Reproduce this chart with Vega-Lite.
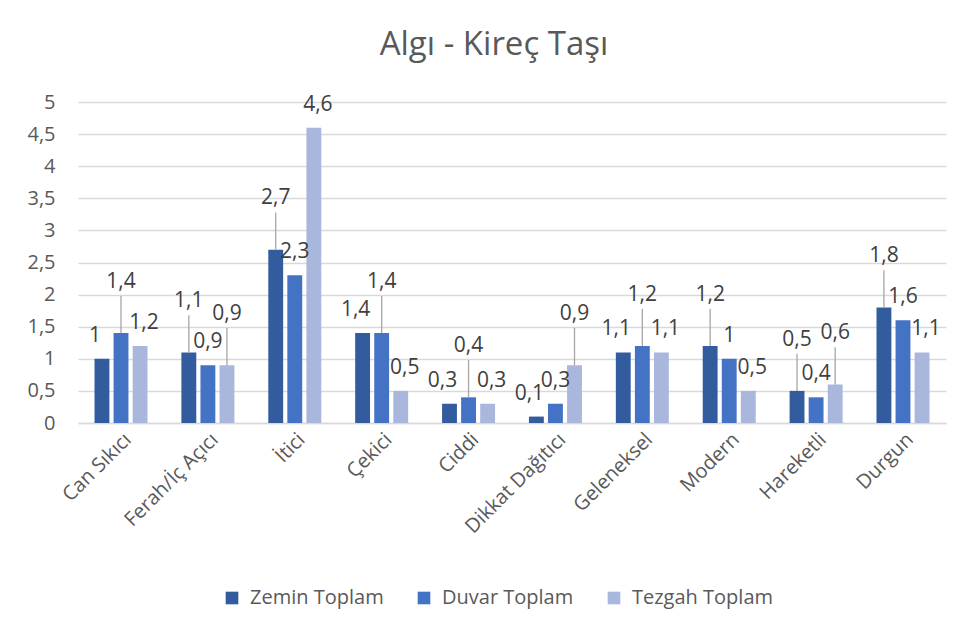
{
  "$schema": "https://vega.github.io/schema/vega-lite/v6.json",
  "autosize": {"type": "none"},
  "width": 868,
  "height": 321,
  "padding": {"left": 78, "top": 102, "right": 22, "bottom": 212},
  "background": "white",
  "title": {"text": "Algı - Kireç Taşı", "fontSize": 33, "font": "Open Sans", "fontWeight": "normal", "color": "#595959", "anchor": "middle", "offset": 30, "dx": -18},
  "config": {
    "locale": {"number": {"decimal": ",", "thousands": ".", "grouping": [3], "currency": ["", ""]}},
    "view": {"stroke": null},
    "font": "Open Sans"
  },
  "data": {"values": [
    {"k": "Can Sıkıcı", "s": "Zemin Toplam", "v": 1},
    {"k": "Can Sıkıcı", "s": "Duvar Toplam", "v": 1.4},
    {"k": "Can Sıkıcı", "s": "Tezgah Toplam", "v": 1.2},
    {"k": "Ferah/İç Açıcı", "s": "Zemin Toplam", "v": 1.1},
    {"k": "Ferah/İç Açıcı", "s": "Duvar Toplam", "v": 0.9},
    {"k": "Ferah/İç Açıcı", "s": "Tezgah Toplam", "v": 0.9},
    {"k": "İtici", "s": "Zemin Toplam", "v": 2.7},
    {"k": "İtici", "s": "Duvar Toplam", "v": 2.3},
    {"k": "İtici", "s": "Tezgah Toplam", "v": 4.6},
    {"k": "Çekici", "s": "Zemin Toplam", "v": 1.4},
    {"k": "Çekici", "s": "Duvar Toplam", "v": 1.4},
    {"k": "Çekici", "s": "Tezgah Toplam", "v": 0.5},
    {"k": "Ciddi", "s": "Zemin Toplam", "v": 0.3},
    {"k": "Ciddi", "s": "Duvar Toplam", "v": 0.4},
    {"k": "Ciddi", "s": "Tezgah Toplam", "v": 0.3},
    {"k": "Dikkat Dağıtıcı", "s": "Zemin Toplam", "v": 0.1},
    {"k": "Dikkat Dağıtıcı", "s": "Duvar Toplam", "v": 0.3},
    {"k": "Dikkat Dağıtıcı", "s": "Tezgah Toplam", "v": 0.9},
    {"k": "Geleneksel", "s": "Zemin Toplam", "v": 1.1},
    {"k": "Geleneksel", "s": "Duvar Toplam", "v": 1.2},
    {"k": "Geleneksel", "s": "Tezgah Toplam", "v": 1.1},
    {"k": "Modern", "s": "Zemin Toplam", "v": 1.2},
    {"k": "Modern", "s": "Duvar Toplam", "v": 1},
    {"k": "Modern", "s": "Tezgah Toplam", "v": 0.5},
    {"k": "Hareketli", "s": "Zemin Toplam", "v": 0.5},
    {"k": "Hareketli", "s": "Duvar Toplam", "v": 0.4},
    {"k": "Hareketli", "s": "Tezgah Toplam", "v": 0.6},
    {"k": "Durgun", "s": "Zemin Toplam", "v": 1.8},
    {"k": "Durgun", "s": "Duvar Toplam", "v": 1.6},
    {"k": "Durgun", "s": "Tezgah Toplam", "v": 1.1}
  ]},
  "encoding": {
    "x": {"field": "k", "type": "nominal", "sort": null, "title": null,
      "scale": {"paddingInner": 0.39, "paddingOuter": 0.19},
      "axis": {"labelAngle": -45, "labelFontSize": 20, "labelColor": "#595959", "domainColor": "#d9d9d9", "domainWidth": 1.5, "ticks": false, "labelPadding": 6, "labelFont": "Open Sans"}},
    "xOffset": {"field": "s", "type": "nominal", "sort": ["Zemin Toplam", "Duvar Toplam", "Tezgah Toplam"], "scale": {"paddingInner": 0.22}},
    "y": {"field": "v", "type": "quantitative", "title": null,
      "scale": {"domain": [0, 5]},
      "axis": {"values": [0, 0.5, 1, 1.5, 2, 2.5, 3, 3.5, 4, 4.5, 5], "format": "~g", "labelFontSize": 20, "labelColor": "#595959", "domain": false, "ticks": false, "gridColor": "#d9d9d9", "gridWidth": 1.3, "labelPadding": 23, "labelFont": "Open Sans"}}
  },
  "layer": [
    {"mark": {"type": "bar"},
     "encoding": {
       "color": {"field": "s", "type": "nominal", "sort": ["Zemin Toplam", "Duvar Toplam", "Tezgah Toplam"],
         "scale": {"domain": ["Zemin Toplam", "Duvar Toplam", "Tezgah Toplam"], "range": ["#335C9F", "#4472C4", "#A9B7DC"]},
         "legend": {"title": null, "orient": "none", "legendX": 144, "legendY": 486, "direction": "horizontal", "symbolType": "square", "symbolSize": 160, "symbolStrokeWidth": 0, "labelFontSize": 20, "labelColor": "#595959", "columnPadding": 30, "labelOffset": 8, "labelFont": "Open Sans"}}
     }},
    {"transform": [
       {"calculate": "datum.s === 'Zemin Toplam' ? datum.v : null", "as": "zv"},
       {"calculate": "datum.s === 'Duvar Toplam' ? datum.v : null", "as": "dv"},
       {"calculate": "datum.s === 'Tezgah Toplam' ? datum.v : null", "as": "tv"},
       {"joinaggregate": [{"op": "max", "field": "zv", "as": "z"}, {"op": "max", "field": "dv", "as": "d"}, {"op": "max", "field": "tv", "as": "t"}], "groupby": ["k"]},
       {"calculate": "((datum.s === 'Duvar Toplam' && datum.d >= datum.z && datum.d >= datum.t) || (datum.s === 'Zemin Toplam' && datum.z > datum.d) || (datum.s === 'Tezgah Toplam' && datum.t >= datum.d && datum.t - datum.d < 1 && !(datum.d >= datum.z && datum.d >= datum.t))) ? 1 : 0", "as": "lift"},
       {"calculate": "datum.v + datum.lift * 0.58", "as": "top"}
     ],
     "layer": [
       {"transform": [{"filter": "datum.lift === 1"}],
        "mark": {"type": "rule", "color": "#a6a6a6", "strokeWidth": 1.3},
        "encoding": {"y2": {"field": "top"}}},
       {"transform": [{"filter": "datum.lift === 1"}],
        "mark": {"type": "text", "baseline": "alphabetic", "dy": -8, "fontSize": 21, "color": "#404040", "font": "Open Sans"},
        "encoding": {"y": {"field": "top", "type": "quantitative"}, "text": {"field": "v", "type": "quantitative", "format": ".1~f"}}},
       {"transform": [{"filter": "datum.lift === 0 && datum.s === 'Zemin Toplam'"}],
        "mark": {"type": "text", "baseline": "alphabetic", "dy": -17, "dx": -7, "fontSize": 21, "color": "#404040", "font": "Open Sans"},
        "encoding": {"text": {"field": "v", "type": "quantitative", "format": ".1~f"}}},
       {"transform": [{"filter": "datum.lift === 0 && datum.s === 'Duvar Toplam'"}],
        "mark": {"type": "text", "baseline": "alphabetic", "dy": -17, "fontSize": 21, "color": "#404040", "font": "Open Sans"},
        "encoding": {"text": {"field": "v", "type": "quantitative", "format": ".1~f"}}},
       {"transform": [{"filter": "datum.lift === 0 && datum.s === 'Tezgah Toplam'"}],
        "mark": {"type": "text", "baseline": "alphabetic", "dy": -17, "dx": 4, "fontSize": 21, "color": "#404040", "font": "Open Sans"},
        "encoding": {"text": {"field": "v", "type": "quantitative", "format": ".1~f"}}}
     ]}
  ]
}
